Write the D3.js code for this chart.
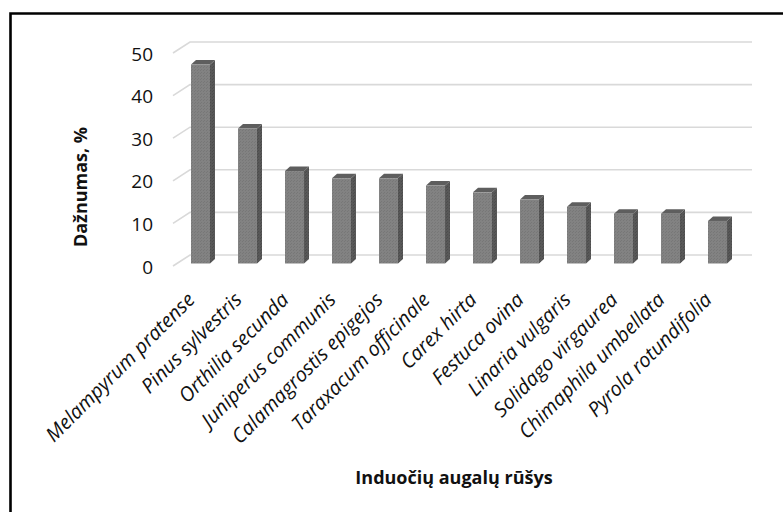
<!DOCTYPE html>
<html>
<head>
<meta charset="utf-8">
<script src="https://cdn.jsdelivr.net/npm/d3@7"></script>
<style>
  html, body { margin: 0; padding: 0; background: #fff; }
  svg { display: block; }
</style>
</head>
<body>
<svg id="chart" width="783" height="512"></svg>
<script>
// Species and their occurrence frequency (%)
const species = [
  "Melampyrum pratense", "Pinus sylvestris", "Orthilia secunda",
  "Juniperus communis", "Calamagrostis epigejos", "Taraxacum officinale",
  "Carex hirta", "Festuca ovina", "Linaria vulgaris",
  "Solidago virgaurea", "Chimaphila umbellata", "Pyrola rotundifolia"
];
const frequency = [46.7, 31.7, 21.7, 20, 20, 18.3, 16.7, 15, 13.3, 11.7, 11.7, 10];
const yTicks = [0, 10, 20, 30, 40, 50];
const yTitle = "Dažnumas, %";
const xTitle = "Induočių augalų rūšys";

const svg = d3.select("#chart");
const W = 783, H = 512;

svg.append("rect").attr("width", W).attr("height", H).attr("fill", "#fff");

// Outer frame (left and top edges visible)
svg.append("path")
  .attr("d", `M10.5,${H} V13.5 H${W}`)
  .attr("fill", "none")
  .attr("stroke", "#000")
  .attr("stroke-width", 2.6);

// Pseudo-3D geometry: back wall and front floor edge offsets
const depthX = 17, depthY = -11;
const x = d3.scaleBand().domain(species).range([173, 737]).paddingInner(0).paddingOuter(0);
const yBack = d3.scaleLinear().domain([0, 50]).range([255, 42]);
const yFront = v => yBack(v) - depthY;
const barShift = 8.5;             // bars stand between floor front and back wall
const yBar = v => yBack(v) + barShift;
const wallRight = 752;

// Gridlines: short diagonal on the side wall, then across the back wall
const grid = svg.append("g");
yTicks.forEach(t => {
  grid.append("path")
    .attr("d", `M${x.range()[0]},${yFront(t)} L${x.range()[0] + depthX},${yBack(t)} H${wallRight}`)
    .attr("fill", "none")
    .attr("stroke", "#d9d9d9")
    .attr("stroke-width", 1.6);
});

// Y axis tick labels
svg.append("g").selectAll("text")
  .data(yTicks).join("text")
  .attr("x", 153)
  .attr("y", d => yFront(d) + 2.5)
  .attr("text-anchor", "end")
  .attr("dominant-baseline", "middle")
  .attr("font-family", "'Open Sans', sans-serif")
  .attr("font-size", 19)
  .attr("fill", "#111")
  .text(d => d);

// Texture for bar faces
const defs = svg.append("defs");
function texture(id, base, dot) {
  const p = defs.append("pattern").attr("id", id)
    .attr("width", 3).attr("height", 3).attr("patternUnits", "userSpaceOnUse");
  p.append("rect").attr("width", 3).attr("height", 3).attr("fill", base);
  p.append("rect").attr("x", 0).attr("y", 0).attr("width", 1).attr("height", 1).attr("fill", dot);
  p.append("rect").attr("x", 2).attr("y", 1).attr("width", 1).attr("height", 1).attr("fill", dot);
}
texture("face", "#828282", "#777");
texture("side", "#585858", "#4c4c4c");

// 3D columns
const barOffset = 18, barW = 19, dx = 5, dy = -4.5;
const bars = svg.append("g").selectAll("g")
  .data(species.map((s, i) => ({ s, v: frequency[i] })))
  .join("g");

bars.append("path") // side face
  .attr("d", d => {
    const x1 = x(d.s) + barOffset + barW;
    return `M${x1},${yBar(d.v)} L${x1 + dx},${yBar(d.v) + dy} L${x1 + dx},${yBar(0) + dy} L${x1},${yBar(0)} Z`;
  })
  .attr("fill", "url(#side)");

bars.append("path") // top face
  .attr("d", d => {
    const x0 = x(d.s) + barOffset;
    const yt = yBar(d.v);
    return `M${x0},${yt} L${x0 + dx},${yt + dy} L${x0 + barW + dx},${yt + dy} L${x0 + barW},${yt} Z`;
  })
  .attr("fill", "#5e5e5e");

bars.append("rect") // front face
  .attr("x", d => x(d.s) + barOffset)
  .attr("y", d => yBar(d.v))
  .attr("width", barW)
  .attr("height", d => yBar(0) - yBar(d.v))
  .attr("fill", "url(#face)");

// Category labels, rotated
svg.append("g").selectAll("text")
  .data(species).join("text")
  .attr("transform", d => `translate(${x(d) + 23},${301}) rotate(-45)`)
  .attr("text-anchor", "end")
  .attr("font-family", "'Open Sans', sans-serif")
  .attr("font-style", "italic")
  .attr("font-size", 20)
  .attr("fill", "#111")
  .text(d => d);

// Axis titles
svg.append("text")
  .attr("transform", "translate(87,187) rotate(-90)")
  .attr("text-anchor", "middle")
  .attr("font-family", "'Open Sans', sans-serif")
  .attr("font-weight", "bold")
  .attr("font-size", 18)
  .attr("fill", "#111")
  .text(yTitle);

svg.append("text")
  .attr("x", 454)
  .attr("y", 484)
  .attr("text-anchor", "middle")
  .attr("font-family", "'Open Sans', sans-serif")
  .attr("font-weight", "bold")
  .attr("font-size", 18)
  .attr("fill", "#111")
  .text(xTitle);
</script>
</body>
</html>
